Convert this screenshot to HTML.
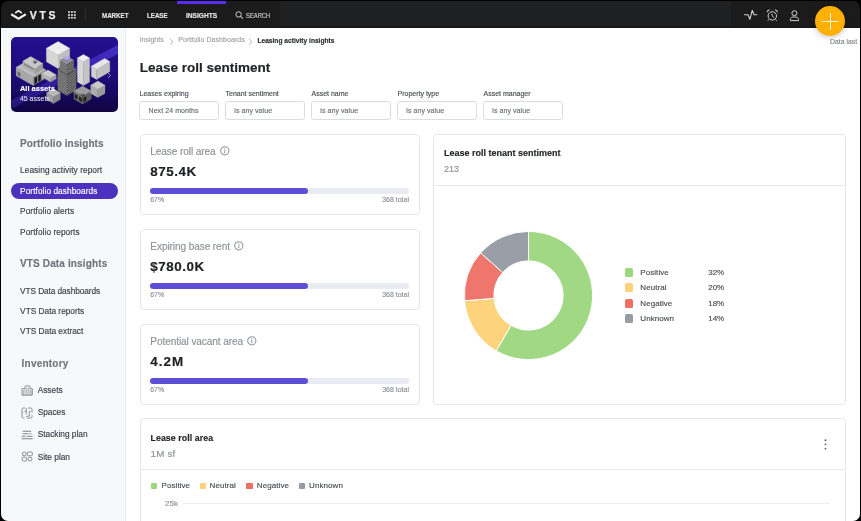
<!DOCTYPE html>
<html><head><meta charset="utf-8">
<style>
*{margin:0;padding:0;box-sizing:border-box}
html,body{width:861px;height:521px;overflow:hidden;background:#000}
body{font-family:"Liberation Sans",sans-serif;position:relative}
.app{position:absolute;left:1px;top:1px;width:859px;height:520px;border-radius:7px;overflow:hidden;background:#000}
.pg{position:absolute;left:-1px;top:-1px;width:861px;height:521px;will-change:transform}
.a{position:absolute;white-space:nowrap;line-height:1;-webkit-text-stroke-width:0.15px}
.nav{position:absolute;left:0;top:0;width:861px;height:27.5px;background:#1b1b1b}
.navl{position:absolute;left:279.8px;top:0;width:450.8px;height:27.5px;background:#1f2022}
.navb{position:absolute;left:0;top:26px;width:861px;height:1.5px;background:#181818}
.side{position:absolute;left:0;top:27.5px;width:126.2px;height:494px;background:#f7f8fa;border-right:1px solid #eaecf0}
.nl{color:#e6e6e6;font-weight:bold;font-size:7.2px;transform:scaleX(0.86);transform-origin:0 0}
.sh{color:#70747b;font-weight:bold;font-size:10px}
.si{color:#3b3e44;font-size:8.3px}
.bc{color:#a0a4aa;font-size:7.1px;letter-spacing:-0.06px}
.fl{color:#4a4e55;font-size:7px}
.fb{position:absolute;width:79.8px;height:19.3px;border:1px solid #d9dde3;border-radius:2.5px;background:#fff}
.fv{color:#6b6f76;font-size:7px;letter-spacing:0.07px}
.card{position:absolute;border:1px solid #e4e7ec;border-radius:4px;background:#fff}
.kl{color:#8d9197;font-size:10.1px;letter-spacing:-0.1px;-webkit-text-stroke:0.15px #8d9197}
.kv{color:#1f2124;font-weight:bold;font-size:13.4px;letter-spacing:0.55px;-webkit-text-stroke:0.2px #1f2124}
.trk{position:absolute;width:258.3px;height:6px;border-radius:3px;background:#e8ebf2}
.fil{position:absolute;left:0;top:0;width:157.5px;height:6px;border-radius:3px;background:#5c4fd6}
.ks{color:#8d9197;font-size:7px}
.ct{color:#1f2124;font-weight:bold;font-size:9px}
.cs{color:#8d9197;font-size:9px}
.lg{color:#4a4e55;font-size:8px}
.sq{position:absolute;width:8.7px;height:8.7px;border-radius:1.5px}
</style></head>
<body>
<div class="app"><div class="pg">
  <div class="a" style="left:0;top:0;width:861px;height:521px;background:#fff"></div>
  <!-- NAV -->
  <div class="nav"></div>
  <div class="navl"></div>
  <div class="navb"></div>
  <!-- logo -->
  <svg class="a" style="left:9.8px;top:7.5px" width="17" height="13" viewBox="0 0 17 13">
    <path d="M1.2 6.2 L8.5 10.6 L15.8 6.2" fill="none" stroke="#ededed" stroke-width="2.2" stroke-linejoin="miter"/>
    <path d="M5.2 5 L8.5 2.8 L11.8 5" fill="none" stroke="#ededed" stroke-width="1.6"/>
  </svg>
  <div class="a" id="vts" style="left:29.8px;top:10.3px;-webkit-text-stroke:0.25px #ececec;font-size:10.5px;font-weight:bold;color:#ececec;letter-spacing:2.6px">VTS</div>
  <svg class="a" style="left:68px;top:10.8px" width="9" height="9" viewBox="0 0 9 9" fill="#c4c4c4"><rect x="0.0" y="0.0" width="2" height="2" rx="0.4"/><rect x="2.9" y="0.0" width="2" height="2" rx="0.4"/><rect x="5.8" y="0.0" width="2" height="2" rx="0.4"/><rect x="0.0" y="2.9" width="2" height="2" rx="0.4"/><rect x="2.9" y="2.9" width="2" height="2" rx="0.4"/><rect x="5.8" y="2.9" width="2" height="2" rx="0.4"/><rect x="0.0" y="5.8" width="2" height="2" rx="0.4"/><rect x="2.9" y="5.8" width="2" height="2" rx="0.4"/><rect x="5.8" y="5.8" width="2" height="2" rx="0.4"/></svg>
  <div class="a" style="left:84.6px;top:8px;width:1.2px;height:13.4px;background:#2e2e2e"></div>
  <div class="a nl" id="market" style="left:102.4px;top:11.9px">MARKET</div>
  <div class="a nl" id="lease" style="left:146.9px;top:11.9px">LEASE</div>
  <div class="a nl" id="insights" style="left:185.6px;top:11.5px;transform:scaleX(0.92)">INSIGHTS</div>
  <div class="a" style="left:177px;top:0;width:49.4px;height:3.6px;background:#5a2cf0"></div>
  <svg class="a" style="left:235.3px;top:11px" width="9" height="8" viewBox="0 0 9 8">
    <circle cx="3.6" cy="3.4" r="2.7" fill="none" stroke="#cfcfcf" stroke-width="1"/>
    <path d="M5.6 5.4 L7.8 7.6" stroke="#cfcfcf" stroke-width="1.1"/>
  </svg>
  <div class="a" id="search" style="left:246.1px;top:11.8px;font-size:7.2px;color:#cfcfcf;transform:scaleX(0.81);transform-origin:0 0">SEARCH</div>
  <!-- right icons -->
  <svg class="a" style="left:743.5px;top:9px" width="14" height="12" viewBox="0 0 14 12">
    <path d="M0.5 5.7 H4 L5.9 10.3 L8.2 1.3 L10.1 5.7 H12.8" fill="none" stroke="#d2d2d2" stroke-width="1.1" stroke-linejoin="round" stroke-linecap="round"/>
  </svg>
  <svg class="a" style="left:766px;top:8.5px" width="13" height="13" viewBox="0 0 13 13">
    <circle cx="6.3" cy="6.9" r="4.2" fill="none" stroke="#d2d2d2" stroke-width="1"/>
    <path d="M5.9 4.5 L6.3 7 L7.8 8.7" fill="none" stroke="#d2d2d2" stroke-width="0.9"/>
    <path d="M0.9 3.2 A2.6 2.6 0 0 1 3.6 0.8 Z M11.7 3.2 A2.6 2.6 0 0 0 9 0.8 Z" fill="#d2d2d2" stroke="#d2d2d2" stroke-width="0.5"/>
    <path d="M3 10.4 L1.9 11.7 M9.6 10.4 L10.7 11.7" stroke="#d2d2d2" stroke-width="1"/>
  </svg>
  <svg class="a" style="left:789.3px;top:9.6px" width="11" height="12" viewBox="0 0 11 12">
    <circle cx="5.4" cy="3.2" r="2.5" fill="none" stroke="#d2d2d2" stroke-width="1"/>
    <path d="M1.3 10.6 V9.6 C1.3 7.8 2.8 6.9 5.4 6.9 C8 6.9 9.5 7.8 9.5 9.6 V10.6 Z" fill="none" stroke="#d2d2d2" stroke-width="1" stroke-linejoin="round"/>
  </svg>

  <!-- SIDEBAR -->
  <div class="side"></div>
  <div class="a" style="left:11px;top:37px;width:106.6px;height:75.2px;border-radius:5px;overflow:hidden">
    <svg width="107" height="75" viewBox="0 0 107 75" style="display:block">
      <defs>
        <linearGradient id="bg" x1="0" y1="0" x2="0" y2="1">
          <stop offset="0" stop-color="#240f90"/>
          <stop offset="0.55" stop-color="#1e0b78"/>
          <stop offset="1" stop-color="#0f0442"/>
        </linearGradient>
        <linearGradient id="band" x1="0" y1="1" x2="1" y2="0">
          <stop offset="0" stop-color="#3a28a8" stop-opacity="0.45"/>
          <stop offset="1" stop-color="#4a32d0" stop-opacity="0.85"/>
        </linearGradient>
      </defs>
      <rect width="107" height="75" fill="url(#bg)"/>
      <polygon points="0,63.5 107,8 107,17 0,72" fill="url(#band)"/>
      <polygon points="35.4,24.8 47.0,31.5 47.0,17.9 35.4,11.2" fill="#d6d6d6" stroke="#d6d6d6" stroke-width="0.3" stroke-linejoin="round"/><polygon points="47.0,31.5 58.7,24.8 58.7,11.2 47.0,17.9" fill="#c0c0c0" stroke="#c0c0c0" stroke-width="0.3" stroke-linejoin="round"/><polygon points="35.4,11.2 47.0,17.9 58.7,11.2 47.1,4.5" fill="#efefef" stroke="#efefef" stroke-width="0.3" stroke-linejoin="round"/><polygon points="80.3,39.4 85.5,42.4 85.5,32.2 80.3,29.2" fill="#d0d0d0" stroke="#d0d0d0" stroke-width="0.3" stroke-linejoin="round"/><polygon points="85.5,42.4 98.8,34.7 98.8,24.5 85.5,32.2" fill="#c0c0c0" stroke="#c0c0c0" stroke-width="0.3" stroke-linejoin="round"/><polygon points="80.3,29.2 85.5,32.2 98.8,24.5 93.6,21.5" fill="#e8e8e8" stroke="#e8e8e8" stroke-width="0.3" stroke-linejoin="round"/><polygon points="66.4,44.9 72.5,48.4 72.5,24.4 66.4,20.9" fill="#d8d8d8" stroke="#d8d8d8" stroke-width="0.3" stroke-linejoin="round"/><polygon points="72.5,48.4 78.6,44.9 78.6,20.9 72.5,24.4" fill="#c4c4c4" stroke="#c4c4c4" stroke-width="0.3" stroke-linejoin="round"/><polygon points="66.4,20.9 72.5,24.4 78.6,20.9 72.5,17.4" fill="#f0f0f0" stroke="#f0f0f0" stroke-width="0.3" stroke-linejoin="round"/><polygon points="5.1,38.8 22.0,48.5 22.0,40.0 5.1,30.2" fill="#a8a8a8" stroke="#a8a8a8" stroke-width="0.3" stroke-linejoin="round"/><polygon points="22.0,48.5 34.6,41.2 34.6,32.8 22.0,40.0" fill="#959595" stroke="#959595" stroke-width="0.3" stroke-linejoin="round"/><polygon points="5.1,30.2 22.0,40.0 34.6,32.8 17.7,23.0" fill="#bdbdbd" stroke="#bdbdbd" stroke-width="0.3" stroke-linejoin="round"/><polygon points="23.5,47.0 26.0,45.5 26.0,39.4 23.5,40.8" fill="#1a1a1a" stroke="#1a1a1a" stroke-width="0.3" stroke-linejoin="round"/><polygon points="27.3,44.8 29.8,43.3 29.8,37.2 27.3,38.7" fill="#1a1a1a" stroke="#1a1a1a" stroke-width="0.3" stroke-linejoin="round"/><polygon points="9.3,39.5 6.8,38.0 6.8,34.6 9.3,36.1" fill="#6a6a6a" stroke="#6a6a6a" stroke-width="0.3" stroke-linejoin="round"/><polygon points="11.9,30.0 24.0,37.0 24.0,31.0 11.9,24.0" fill="#b0b0b0" stroke="#b0b0b0" stroke-width="0.3" stroke-linejoin="round"/><polygon points="24.0,37.0 31.8,32.5 31.8,26.5 24.0,31.0" fill="#9c9c9c" stroke="#9c9c9c" stroke-width="0.3" stroke-linejoin="round"/><polygon points="11.9,24.0 24.0,31.0 31.8,26.5 19.7,19.5" fill="#c8c8c8" stroke="#c8c8c8" stroke-width="0.3" stroke-linejoin="round"/><polygon points="22.8,33.0 13.1,27.4 13.1,26.5 22.8,32.1" fill="#777" stroke="#777" stroke-width="0.3" stroke-linejoin="round"/><polygon points="22.3,25.5 24.0,26.5 24.0,25.0 22.3,24.0" fill="#555" stroke="#555" stroke-width="0.3" stroke-linejoin="round"/><polygon points="24.0,26.5 25.7,25.5 25.7,24.0 24.0,25.0" fill="#444" stroke="#444" stroke-width="0.3" stroke-linejoin="round"/><polygon points="22.3,24.0 24.0,25.0 25.7,24.0 24.0,23.0" fill="#888" stroke="#888" stroke-width="0.3" stroke-linejoin="round"/><polygon points="31.3,40.2 39.5,45.0 39.5,41.0 31.3,36.2" fill="#b4b4b4" stroke="#b4b4b4" stroke-width="0.3" stroke-linejoin="round"/><polygon points="39.5,45.0 45.1,41.8 45.1,37.8 39.5,41.0" fill="#a0a0a0" stroke="#a0a0a0" stroke-width="0.3" stroke-linejoin="round"/><polygon points="31.3,36.2 39.5,41.0 45.1,37.8 36.9,33.0" fill="#cbcbcb" stroke="#cbcbcb" stroke-width="0.3" stroke-linejoin="round"/><polygon points="46.8,53.5 56.0,58.8 56.0,37.8 46.8,32.5" fill="#5e5e5e" stroke="#5e5e5e" stroke-width="0.3" stroke-linejoin="round"/><polygon points="56.0,58.8 65.2,53.5 65.2,32.5 56.0,37.8" fill="#4b4b4b" stroke="#4b4b4b" stroke-width="0.3" stroke-linejoin="round"/><polygon points="46.8,32.5 56.0,37.8 65.2,32.5 56.0,27.2" fill="#7b7b85" stroke="#7b7b85" stroke-width="0.3" stroke-linejoin="round"/><polyline points="46.8,51.8 56.0,57.0 65.2,51.8" fill="none" stroke="#a5a5a5" stroke-width="0.55"/><polyline points="46.8,50.0 56.0,55.3 65.2,50.0" fill="none" stroke="#a5a5a5" stroke-width="0.55"/><polyline points="46.8,48.2 56.0,53.5 65.2,48.2" fill="none" stroke="#a5a5a5" stroke-width="0.55"/><polyline points="46.8,46.5 56.0,51.8 65.2,46.5" fill="none" stroke="#a5a5a5" stroke-width="0.55"/><polyline points="46.8,44.8 56.0,50.0 65.2,44.8" fill="none" stroke="#a5a5a5" stroke-width="0.55"/><polyline points="46.8,43.0 56.0,48.3 65.2,43.0" fill="none" stroke="#a5a5a5" stroke-width="0.55"/><polyline points="46.8,41.2 56.0,46.5 65.2,41.2" fill="none" stroke="#a5a5a5" stroke-width="0.55"/><polyline points="46.8,39.5 56.0,44.8 65.2,39.5" fill="none" stroke="#a5a5a5" stroke-width="0.55"/><polyline points="46.8,37.8 56.0,43.0 65.2,37.8" fill="none" stroke="#a5a5a5" stroke-width="0.55"/><polyline points="46.8,36.0 56.0,41.3 65.2,36.0" fill="none" stroke="#a5a5a5" stroke-width="0.55"/><polyline points="46.8,34.2 56.0,39.5 65.2,34.2" fill="none" stroke="#a5a5a5" stroke-width="0.55"/><polygon points="49.1,33.8 56.0,37.8 56.0,27.3 49.1,23.3" fill="#616161" stroke="#616161" stroke-width="0.3" stroke-linejoin="round"/><polygon points="56.0,37.8 62.9,33.8 62.9,23.3 56.0,27.3" fill="#4e4e4e" stroke="#4e4e4e" stroke-width="0.3" stroke-linejoin="round"/><polygon points="49.1,23.3 56.0,27.3 62.9,23.3 56.0,19.3" fill="#8e8e9c" stroke="#8e8e9c" stroke-width="0.3" stroke-linejoin="round"/><polyline points="49.1,32.0 56.0,36.0 62.9,32.0" fill="none" stroke="#a5a5a5" stroke-width="0.55"/><polyline points="49.1,30.3 56.0,34.3 62.9,30.3" fill="none" stroke="#a5a5a5" stroke-width="0.55"/><polyline points="49.1,28.5 56.0,32.5 62.9,28.5" fill="none" stroke="#a5a5a5" stroke-width="0.55"/><polyline points="49.1,26.8 56.0,30.8 62.9,26.8" fill="none" stroke="#a5a5a5" stroke-width="0.55"/><polyline points="49.1,25.0 56.0,29.0 62.9,25.0" fill="none" stroke="#a5a5a5" stroke-width="0.55"/><polygon points="53.0,21.5 56.0,23.3 56.0,23.0 53.0,21.2" fill="#9080d0" stroke="#9080d0" stroke-width="0.3" stroke-linejoin="round"/><polygon points="56.0,23.3 59.0,21.5 59.0,21.2 56.0,23.0" fill="#8070c0" stroke="#8070c0" stroke-width="0.3" stroke-linejoin="round"/><polygon points="53.0,21.2 56.0,23.0 59.0,21.2 56.0,19.5" fill="#b8aaf5" stroke="#b8aaf5" stroke-width="0.3" stroke-linejoin="round"/><polygon points="35.6,62.6 42.5,66.6 42.5,59.7 35.6,55.7" fill="#9e9e9e" stroke="#9e9e9e" stroke-width="0.3" stroke-linejoin="round"/><polygon points="42.5,66.6 49.3,62.6 49.3,55.7 42.5,59.7" fill="#8a8a8a" stroke="#8a8a8a" stroke-width="0.3" stroke-linejoin="round"/><polygon points="35.6,55.7 42.5,59.7 49.3,55.7 42.4,51.7" fill="#bababa" stroke="#bababa" stroke-width="0.3" stroke-linejoin="round"/><polygon points="62.9,62.0 71.6,67.0 71.6,59.0 62.9,54.0" fill="#727272" stroke="#727272" stroke-width="0.3" stroke-linejoin="round"/><polygon points="71.6,67.0 80.3,62.0 80.3,54.0 71.6,59.0" fill="#606060" stroke="#606060" stroke-width="0.3" stroke-linejoin="round"/><polygon points="62.9,54.0 71.6,59.0 80.3,54.0 71.6,49.0" fill="#9c9c9c" stroke="#9c9c9c" stroke-width="0.3" stroke-linejoin="round"/><polygon points="72.5,64.9 75.1,63.4 75.1,59.4 72.5,60.9" fill="#1e1e1e" stroke="#1e1e1e" stroke-width="0.3" stroke-linejoin="round"/><polygon points="70.7,64.9 68.1,63.4 68.1,59.4 70.7,60.9" fill="#222" stroke="#222" stroke-width="0.3" stroke-linejoin="round"/><polygon points="66.4,62.4 63.8,60.9 63.8,56.9 66.4,58.4" fill="#222" stroke="#222" stroke-width="0.3" stroke-linejoin="round"/><polygon points="69.9,58.4 71.6,59.4 71.6,58.4 69.9,57.4" fill="#444" stroke="#444" stroke-width="0.3" stroke-linejoin="round"/><polygon points="71.6,59.4 73.3,58.4 73.3,57.4 71.6,58.4" fill="#333" stroke="#333" stroke-width="0.3" stroke-linejoin="round"/><polygon points="69.9,57.4 71.6,58.4 73.3,57.4 71.6,56.4" fill="#666" stroke="#666" stroke-width="0.3" stroke-linejoin="round"/><polygon points="79.7,56.4 86.8,60.5 86.8,52.3 79.7,48.2" fill="#adadad" stroke="#adadad" stroke-width="0.3" stroke-linejoin="round"/><polygon points="86.8,60.5 94.0,56.4 94.0,48.2 86.8,52.3" fill="#9a9a9a" stroke="#9a9a9a" stroke-width="0.3" stroke-linejoin="round"/><polygon points="79.7,48.2 86.8,52.3 94.0,48.2 86.9,44.0" fill="#c8c8c8" stroke="#c8c8c8" stroke-width="0.3" stroke-linejoin="round"/>
      <path d="M97 36 L99.5 38.5 L97 41" fill="none" stroke="#c9c6e6" stroke-width="0.7"/>
    </svg>
  </div>
  <div class="a" id="allassets" style="left:19.9px;top:84.9px;font-size:7.5px;font-weight:bold;color:#fff">All assets</div>
  <div class="a" id="n45" style="left:19.9px;top:95.1px;font-size:7px;color:#d8d6ee">45 assets</div>

  <div class="a sh" id="pi" style="left:20px;top:139.1px;letter-spacing:0.08px">Portfolio insights</div>
  <div class="a si" id="lar" style="left:20.1px;top:166.3px;letter-spacing:0.06px">Leasing activity report</div>
  <div class="a" style="left:10.9px;top:182.8px;width:107px;height:16px;border-radius:8px;background:#4a32bf"></div>
  <div class="a si" id="pd" style="left:20.1px;top:187.1px;letter-spacing:0.06px;color:#fff">Portfolio dashboards</div>
  <div class="a si" id="pa" style="left:20.1px;top:207.1px;letter-spacing:0.06px">Portfolio alerts</div>
  <div class="a si" id="pr" style="left:20.1px;top:227.6px;letter-spacing:0.06px">Portfolio reports</div>
  <div class="a sh" id="vdi" style="left:20px;top:259.1px;letter-spacing:0.14px">VTS Data insights</div>
  <div class="a si" id="vdd" style="left:20.1px;top:286.7px;letter-spacing:-0.09px">VTS Data dashboards</div>
  <div class="a si" id="vdr" style="left:20.1px;top:306.9px">VTS Data reports</div>
  <div class="a si" id="vde" style="left:20.1px;top:327.4px">VTS Data extract</div>
  <div class="a sh" id="inv" style="left:21.6px;top:359.2px;letter-spacing:0.22px">Inventory</div>
  <!-- inventory icons -->
  <svg class="a" style="left:20.5px;top:384.5px" width="13" height="11" viewBox="0 0 13 11" fill="none" stroke="#7f838a" stroke-width="0.9">
    <path d="M1 10.2 V3.6 H4 V1.6 Q4 0.9 4.7 0.9 H8.3 Q9 0.9 9 1.6 V3.6 H11.3 V10.2 Z"/>
    <path d="M4 3.6 V10.2 M9 3.6 V10.2 M5.7 2.5 V10 M7.3 2.5 V10 M2.4 5 V10 M10.2 5 V10" stroke-width="0.6"/>
  </svg>
  <div class="a si" id="assets" style="left:37.7px;top:385.6px">Assets</div>
  <svg class="a" style="left:20.5px;top:406.5px" width="13" height="12" viewBox="0 0 13 12" fill="none" stroke="#7f838a" stroke-width="0.9">
    <path d="M4 1 H2.3 Q1 1 1 2.3 V9.7 Q1 11 2.3 11 H3.5 M6 11 H9.7 Q11 11 11 9.7 V8 M11 5.5 V2.3 Q11 1 9.7 1 H7"/>
    <path d="M5.3 1 V4.2 H3.5 M5.3 4.2 V7.5 M2.5 5.5 H3.2 M8.3 4.5 H9.8 M8.3 4.5 V9.2 H6.3 M5.3 9 V10"/>
  </svg>
  <div class="a si" id="spaces" style="left:37.7px;top:407.6px">Spaces</div>
  <svg class="a" style="left:20.5px;top:429.5px" width="13" height="10" viewBox="0 0 13 10" fill="none" stroke="#7f838a" stroke-width="1.05">
    <path d="M1.7 1.3 H10.2 M1.7 3.8 H7.5 M8.4 3.8 H10.2 M0.6 6.2 H4.8 M5.9 6.2 H11.7 M0.6 8.8 H11.7"/>
  </svg>
  <div class="a si" id="stack" style="left:37.7px;top:430.3px">Stacking plan</div>
  <svg class="a" style="left:20.5px;top:451.3px" width="13" height="11" viewBox="0 0 13 11" fill="none" stroke="#7f838a" stroke-width="0.9">
    <circle cx="3.2" cy="2.9" r="1.9"/><rect x="6.3" y="1" width="5" height="3.8" rx="1"/>
    <rect x="1.2" y="6.2" width="4.4" height="3.9" rx="1"/><circle cx="9" cy="8.1" r="1.95"/>
  </svg>
  <div class="a si" id="site" style="left:37.7px;top:452.6px">Site plan</div>

  <!-- MAIN -->
  <div class="a bc" id="bc1" style="left:139.7px;top:37.2px">Insights</div>
  <svg class="a" style="left:168.5px;top:37.6px" width="5" height="7.4" viewBox="0 0 5 7.4"><path d="M1 0.8 L4 3.7 L1 6.6" fill="none" stroke="#a3a7ad" stroke-width="0.85"/></svg>
  <div class="a bc" id="bc2" style="left:178.2px;top:37.2px;letter-spacing:0.02px">Portfolio Dashboards</div>
  <svg class="a" style="left:248.4px;top:37.6px" width="5" height="7.4" viewBox="0 0 5 7.4"><path d="M1 0.8 L4 3.7 L1 6.6" fill="none" stroke="#a3a7ad" stroke-width="0.85"/></svg>
  <div class="a bc" id="bc3" style="left:257.4px;top:38.2px;letter-spacing:0.02px;color:#2b2e33;font-weight:bold;font-size:6.6px">Leasing activity insights</div>

  <div class="a" id="title" style="left:139.7px;top:61.2px;font-size:13.5px;font-weight:bold;color:#222428">Lease roll sentiment</div>

  <div class="a fl" id="f1" style="left:139.5px;top:90.1px">Leases expiring</div>
  <div class="fb" style="left:139.0px;top:101.0px"></div>
  <div class="a fv" id="v1" style="left:148.5px;top:106.5px">Next 24 months</div>
  <div class="a fl" style="left:225.5px;top:90.1px">Tenant sentiment</div>
  <div class="fb" style="left:225.0px;top:101.0px"></div>
  <div class="a fv" id="v2" style="left:234.3px;top:106.5px">is any value</div>
  <div class="a fl" style="left:311.5px;top:90.1px">Asset name</div>
  <div class="fb" style="left:311.0px;top:101.0px"></div>
  <div class="a fv" style="left:320.3px;top:106.5px">is any value</div>
  <div class="a fl" style="left:397.5px;top:90.1px">Property type</div>
  <div class="fb" style="left:397.0px;top:101.0px"></div>
  <div class="a fv" style="left:406.3px;top:106.5px">is any value</div>
  <div class="a fl" style="left:483.5px;top:90.1px">Asset manager</div>
  <div class="fb" style="left:483.0px;top:101.0px"></div>
  <div class="a fv" style="left:492.3px;top:106.5px">is any value</div>

  <!-- KPI cards -->
  <div class="card" style="left:139.7px;top:133.7px;width:280px;height:81.8px"><div class="trk" style="top:53px;left:9.8px"><div class="fil"></div></div></div>
<div class="a kl" id="kl0" style="left:150.3px;top:147.2px">Lease roll area<svg style="display:inline-block;vertical-align:-1.2px;position:relative;top:-1px;margin-left:4.4px" width="9.6" height="9.6" viewBox="0 0 10 10"><circle cx="5" cy="5" r="4.3" fill="none" stroke="#92969c" stroke-width="1.1"/><circle cx="5" cy="3" r="0.7" fill="#92969c"/><path d="M5 4.4 V7.5" stroke="#92969c" stroke-width="1.1"/></svg></div>
<div class="a kv" id="kv0" style="left:150.2px;top:165.3px;">875.4K</div>
<div class="a ks" id="kp0" style="left:150.2px;top:195.8px">67%</div>
<div class="a ks" id="kt0" style="right:452.0px;top:195.8px">368 total</div>
<div class="card" style="left:139.7px;top:228.6px;width:280px;height:81.8px"><div class="trk" style="top:53px;left:9.8px"><div class="fil"></div></div></div>
<div class="a kl" id="kl1" style="left:150.3px;top:242.1px">Expiring base rent<svg style="display:inline-block;vertical-align:-1.2px;position:relative;top:-1px;margin-left:4.4px" width="9.6" height="9.6" viewBox="0 0 10 10"><circle cx="5" cy="5" r="4.3" fill="none" stroke="#92969c" stroke-width="1.1"/><circle cx="5" cy="3" r="0.7" fill="#92969c"/><path d="M5 4.4 V7.5" stroke="#92969c" stroke-width="1.1"/></svg></div>
<div class="a kv" id="kv1" style="left:150.2px;top:260.2px;">$780.0K</div>
<div class="a ks" id="kp1" style="left:150.2px;top:290.7px">67%</div>
<div class="a ks" id="kt1" style="right:452.0px;top:290.7px">368 total</div>
<div class="card" style="left:139.7px;top:323.5px;width:280px;height:81.8px"><div class="trk" style="top:53px;left:9.8px"><div class="fil"></div></div></div>
<div class="a kl" id="kl2" style="left:150.3px;top:337.0px">Potential vacant area<svg style="display:inline-block;vertical-align:-1.2px;position:relative;top:-1px;margin-left:4.4px" width="9.6" height="9.6" viewBox="0 0 10 10"><circle cx="5" cy="5" r="4.3" fill="none" stroke="#92969c" stroke-width="1.1"/><circle cx="5" cy="3" r="0.7" fill="#92969c"/><path d="M5 4.4 V7.5" stroke="#92969c" stroke-width="1.1"/></svg></div>
<div class="a kv" id="kv2" style="left:150.2px;top:355.1px; letter-spacing:1.1px;">4.2M</div>
<div class="a ks" id="kp2" style="left:150.2px;top:385.6px">67%</div>
<div class="a ks" id="kt2" style="right:452.0px;top:385.6px">368 total</div>


  <!-- sentiment card -->
  <div class="card" style="left:432.9px;top:134px;width:412.9px;height:271.4px">
    <div style="position:absolute;left:0;right:0;top:49.7px;height:1px;background:#e6e9ee"></div>
  </div>
  <div class="a ct" id="lrts" style="left:444px;top:148.7px">Lease roll tenant sentiment</div>
  <div class="a cs" id="n213" style="left:444px;top:164.6px">213</div>
  <svg class="a" style="left:463px;top:230px" width="131" height="131" viewBox="0 0 131 131">
    <path d="M65.50 1.40 A64.1 64.1 0 1 1 33.16 120.84 L48.04 95.37 A34.6 34.6 0 1 0 65.50 30.90 Z" fill="#a0d884" stroke="#fff" stroke-width="1"/><path d="M33.16 120.84 A64.1 64.1 0 0 1 1.62 70.75 L31.02 68.34 A34.6 34.6 0 0 0 48.04 95.37 Z" fill="#fdd47c" stroke="#fff" stroke-width="1"/><path d="M1.62 70.75 A64.1 64.1 0 0 1 17.64 22.86 L39.67 42.48 A34.6 34.6 0 0 0 31.02 68.34 Z" fill="#ee766c" stroke="#fff" stroke-width="1"/><path d="M17.64 22.86 A64.1 64.1 0 0 1 65.50 1.40 L65.50 30.90 A34.6 34.6 0 0 0 39.67 42.48 Z" fill="#9a9ea7" stroke="#fff" stroke-width="1"/>
  </svg>
  <div class="sq" style="left:624.8px;top:268.0px;background:#9cd67e"></div><div class="a lg" id="lg0" style="left:640.3px;top:269.0px;letter-spacing:0.06px">Positive</div><div class="a lg" id="lp0" style="right:136.8px;top:269.0px">32%</div>
<div class="sq" style="left:624.8px;top:283.4px;background:#fdd27a"></div><div class="a lg" id="lg1" style="left:640.3px;top:284.4px;letter-spacing:0.06px">Neutral</div><div class="a lg" id="lp1" style="right:136.8px;top:284.4px">20%</div>
<div class="sq" style="left:624.8px;top:298.9px;background:#ed6f65"></div><div class="a lg" id="lg2" style="left:640.3px;top:299.9px;letter-spacing:0.06px">Negative</div><div class="a lg" id="lp2" style="right:136.8px;top:299.9px">18%</div>
<div class="sq" style="left:624.8px;top:314.4px;background:#969ba4"></div><div class="a lg" id="lg3" style="left:640.3px;top:315.4px;letter-spacing:0.06px">Unknown</div><div class="a lg" id="lp3" style="right:136.8px;top:315.4px">14%</div>


  <!-- bottom card -->
  <div class="card" style="left:139.7px;top:418.3px;width:706.2px;height:120px">
    <div style="position:absolute;left:0;right:0;top:50.2px;height:1px;background:#e6e9ee"></div>
  </div>
  <div class="a ct" id="lra" style="left:150.5px;top:433.5px;font-size:8.8px;letter-spacing:0.07px">Lease roll area</div>
  <div class="a cs" id="m1" style="left:150.5px;top:448.7px;font-size:9.8px;letter-spacing:0.2px">1M sf</div>
  <svg class="a" style="left:824.2px;top:438.5px" width="3" height="11" viewBox="0 0 3 11" fill="#5a5e66">
    <circle cx="1.5" cy="1.2" r="0.95"/><circle cx="1.5" cy="5.35" r="0.95"/><circle cx="1.5" cy="9.6" r="0.95"/>
  </svg>
  <div class="sq" style="left:150.9px;top:482.6px;width:6.3px;height:6.3px;border-radius:1px;background:#9cd67e"></div>
  <div class="a lg" id="bp" style="left:161.5px;top:482.3px;letter-spacing:0.08px">Positive</div>
  <div class="sq" style="left:199.7px;top:482.6px;width:6.3px;height:6.3px;border-radius:1px;background:#fdd27a"></div>
  <div class="a lg" style="left:209.6px;top:482.3px;letter-spacing:0.08px">Neutral</div>
  <div class="sq" style="left:246.4px;top:482.6px;width:6.3px;height:6.3px;border-radius:1px;background:#ed6f65"></div>
  <div class="a lg" style="left:256.8px;top:482.3px;letter-spacing:0.08px">Negative</div>
  <div class="sq" style="left:298.7px;top:482.6px;width:6.3px;height:6.3px;border-radius:1px;background:#969ba4"></div>
  <div class="a lg" style="left:309.1px;top:482.3px;letter-spacing:0.08px">Unknown</div>
  <div class="a" id="k25" style="left:165.1px;top:500.1px;font-size:8px;color:#8d9197">25k</div>
  <div class="a" style="left:182.6px;top:503.3px;width:647px;height:1px;background:#eef0f3"></div>

  <!-- fab -->
  <div class="a" style="left:814.7px;top:5.5px;width:30.8px;height:30.8px;border-radius:50%;background:#ffb000;box-shadow:0 1px 6px rgba(0,0,0,0.25)"></div>
  <div class="a" style="left:822.2px;top:20.8px;width:16px;height:1.2px;background:#fff8e6"></div>
  <div class="a" style="left:829.6px;top:13.2px;width:1.2px;height:16.4px;background:#fff8e6"></div>
  <div class="a" id="datalast" style="left:830px;top:38.8px;font-size:6.9px;color:#83878e">Data last</div>
</div></div>
</body></html>
